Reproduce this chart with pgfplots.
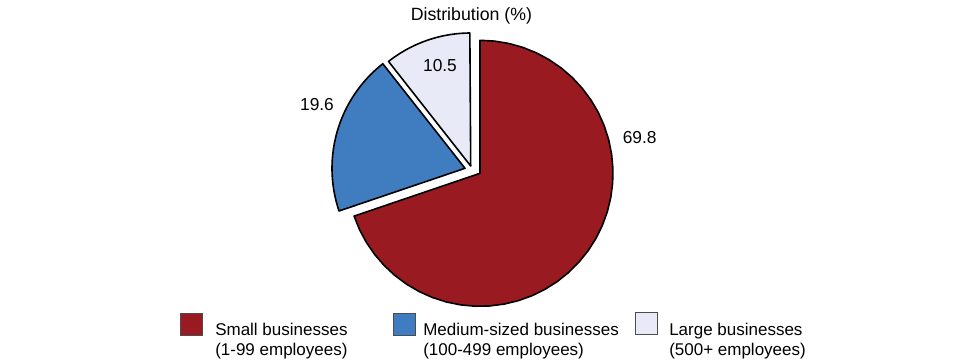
\documentclass[border=0pt]{standalone}
\usepackage{pgfplots}
\pgfplotsset{compat=1.18}
\usepackage{fontspec}
\setmainfont{Liberation Sans}
\definecolor{cS}{HTML}{9A1A22}
\definecolor{cM}{HTML}{3F7CC0}
\definecolor{cL}{HTML}{E8EBF7}
% shares (%)
\def\vS{69.8}
\def\vM{19.6}
\def\vL{10.5}
\pgfmathsetmacro\aA{90}
\pgfmathsetmacro\aB{\aA-3.6*\vS}
\pgfmathsetmacro\aC{\aB-3.6*\vM}
\pgfmathsetmacro\aD{\aC-3.6*\vL}
\newcommand{\pieslice}[6]{%
  \addplot[fill=#1, draw=black, line width=1.2pt, line join=round, variable=\t,
    samples at={-1,0,0.025,...,1.001}]
    ({#2+(\t>=0)*#4*cos(#5+(#6-#5)*\t)}, {#3+(\t>=0)*#4*sin(#5+(#6-#5)*\t)}) -- cycle;
}
\begin{document}
\begin{tikzpicture}
\begin{axis}[width=720pt, height=271.5pt, scale only axis,
  xmin=0, xmax=960, ymin=0, ymax=362, hide axis, clip=false]
\pieslice{cS}{480}{188.7}{133}{\aA}{\aB}
\pieslice{cM}{465}{193.7}{133}{\aB}{\aC}
\pieslice{cL}{470.7}{196}{133}{\aC}{\aD}
\node[anchor=base, inner sep=0, font=\fontsize{13.3pt}{16pt}\selectfont] at (axis cs:471.4,341.3) {Distribution (\%)};
\node[anchor=base, inner sep=0, font=\fontsize{13pt}{16pt}\selectfont] at (axis cs:639.7,218.7) {69.8};
\node[anchor=base, inner sep=0, font=\fontsize{13pt}{16pt}\selectfont] at (axis cs:317,251.3) {19.6};
\node[anchor=base, inner sep=0, font=\fontsize{13pt}{16pt}\selectfont] at (axis cs:440,290.3) {10.5};
% legend
\node[draw=black!70, fill=cS, line width=0.6pt, minimum size=16.5pt, inner sep=0] at (axis cs:191,38) {};
\node[draw=black!70, fill=cM, line width=0.6pt, minimum size=16.5pt, inner sep=0] at (axis cs:404,38) {};
\node[draw=black!70, fill=cL, line width=0.6pt, minimum size=16.5pt, inner sep=0] at (axis cs:646.5,38.5) {};
\begin{scope}[every node/.style={anchor=base west, inner sep=0, font=\fontsize{12.75pt}{15pt}\selectfont}]
\node at (axis cs:215,26.3) {Small businesses};
\node at (axis cs:215,6.3) {(1-99 employees)};
\node at (axis cs:423,26.3) {Medium-sized businesses};
\node at (axis cs:423,6.3) {(100-499 employees)};
\node at (axis cs:669,26.3) {Large businesses};
\node at (axis cs:669,6.3) {(500+ employees)};
\end{scope}
\end{axis}
\path (current axis.south west) rectangle (current axis.north east);
\end{tikzpicture}
\end{document}
